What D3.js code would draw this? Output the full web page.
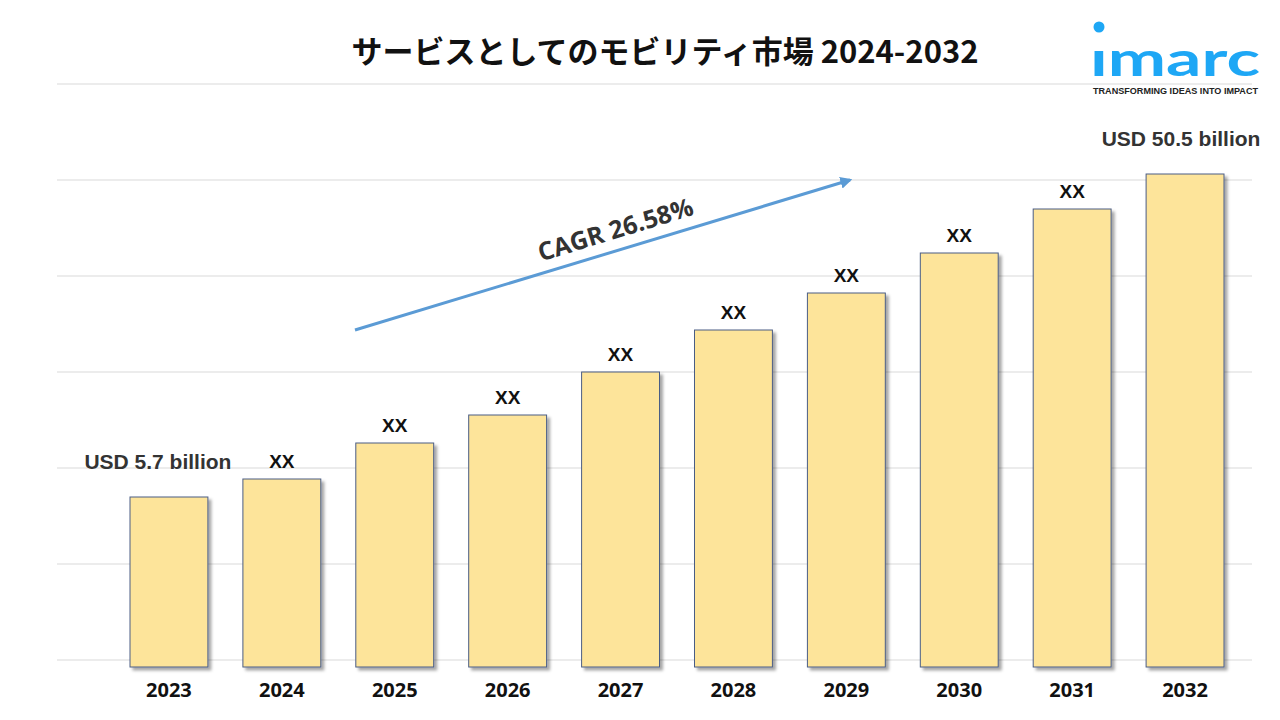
<!DOCTYPE html>
<html lang="ja">
<head>
<meta charset="UTF-8">
<script src="https://d3js.org/d3.v7.min.js"></script>
<style>
  body { margin: 0; background: #fff; font-family: "Liberation Sans", Arial, sans-serif; }
</style>
</head>
<body>
<svg id="chart" width="1280" height="720"></svg>
<script>
// chart data
const years = ["2023","2024","2025","2026","2027","2028","2029","2030","2031","2032"];
// relative bar heights (illustrative, not to scale with USD)
const barValues = [170, 188, 224, 252, 295, 337, 374, 414, 458, 493];
const barLabels = ["USD 5.7 billion","XX","XX","XX","XX","XX","XX","XX","XX","USD 50.5 billion"];
const gridTicks = [0, 96, 192, 288, 384, 480, 576];

const svg = d3.select("#chart");
const baseY = 667;

const x = d3.scaleBand().domain(years).range([130, 1224]).paddingInner(0.31).paddingOuter(0);
const y = d3.scaleLinear().domain([0, 576]).range([baseY, baseY - 576]);

// shadow filter
const defs = svg.append("defs");
const f = defs.append("filter").attr("id", "sh").attr("x", "-10%").attr("y", "-10%").attr("width", "130%").attr("height", "130%");
f.append("feDropShadow").attr("dx", 3).attr("dy", 3).attr("stdDeviation", 1.5).attr("flood-color", "#000").attr("flood-opacity", 0.35);
defs.append("marker").attr("id", "arr").attr("viewBox", "0 0 10 10").attr("refX", 8).attr("refY", 5)
  .attr("markerWidth", 4).attr("markerHeight", 4).attr("orient", "auto")
  .append("path").attr("d", "M0,0L10,5L0,10z").attr("fill", "#5b9bd5");

// grid lines
svg.append("g").selectAll("line").data(gridTicks).join("line")
  .attr("x1", 57).attr("x2", 1252)
  .attr("y1", d => y(d) - 7).attr("y2", d => y(d) - 7)
  .attr("stroke", "#d9d9d9").attr("stroke-width", 1);

// title
svg.append("text").attr("x", 665).attr("y", 63).attr("text-anchor", "middle")
  .attr("font-family", "'Noto Sans CJK JP', sans-serif").attr("font-weight", "bold").attr("font-size", 31)
  .attr("fill", "#111").text("サービスとしてのモビリティ市場 2024-2032");

// bars
svg.append("g").selectAll("rect").data(years).join("rect")
  .attr("x", d => x(d)).attr("width", x.bandwidth())
  .attr("y", (d, i) => y(barValues[i])).attr("height", (d, i) => baseY - y(barValues[i]))
  .attr("fill", "#fde49a").attr("stroke", "#4a5d85").attr("stroke-width", 1)
  .attr("filter", "url(#sh)");

// value labels
const last = years.length - 1;
svg.append("g").selectAll("text").data(years).join("text")
  .attr("x", (d, i) => i === 0 ? x(d) + x.bandwidth() / 2 - 11 : i === last ? x(d) + x.bandwidth() / 2 - 4 : x(d) + x.bandwidth() / 2)
  .attr("y", (d, i) => (i === 0 || i === last) ? y(barValues[i]) - 28 : y(barValues[i]) - 11)
  .attr("text-anchor", "middle").attr("font-weight", "bold")
  .attr("font-size", (d, i) => (i === 0 || i === last) ? 21 : 19)
  .attr("fill", (d, i) => (i === 0 || i === last) ? "#333" : "#111")
  .text((d, i) => barLabels[i]);

// year axis labels
svg.append("g").selectAll("text").data(years).join("text")
  .attr("x", d => x(d) + x.bandwidth() / 2).attr("y", 697)
  .attr("text-anchor", "middle").attr("font-weight", "bold").attr("font-size", 20)
  .attr("font-family", "'Open Sans', sans-serif").attr("fill", "#111")
  .text(d => d);

// CAGR arrow
svg.append("line").attr("x1", 355).attr("y1", 330).attr("x2", 850).attr("y2", 180)
  .attr("stroke", "#5b9bd5").attr("stroke-width", 3).attr("marker-end", "url(#arr)");
svg.append("text").attr("transform", "translate(618,238) rotate(-17)")
  .attr("text-anchor", "middle").attr("font-weight", "bold").attr("font-size", 25)
  .attr("font-family", "'Open Sans', sans-serif").attr("fill", "#333").text("CAGR 26.58%");

// logo
const logo = svg.append("g");
logo.append("circle").attr("cx", 1099).attr("cy", 27).attr("r", 5.5).attr("fill", "#1ea7f5");
logo.append("text").attr("x", 1090).attr("y", 76).attr("font-family", "'Lato', sans-serif")
  .attr("font-weight", "bold").attr("font-size", 48).attr("fill", "#1ea7f5")
  .attr("textLength", 170).attr("lengthAdjust", "spacingAndGlyphs").text("ımarc");
logo.append("text").attr("x", 1093).attr("y", 94).attr("font-weight", "bold").attr("font-size", 8.5)
  .attr("fill", "#222").attr("textLength", 165).attr("lengthAdjust", "spacingAndGlyphs").text("TRANSFORMING IDEAS INTO IMPACT");
</script>
</body>
</html>
